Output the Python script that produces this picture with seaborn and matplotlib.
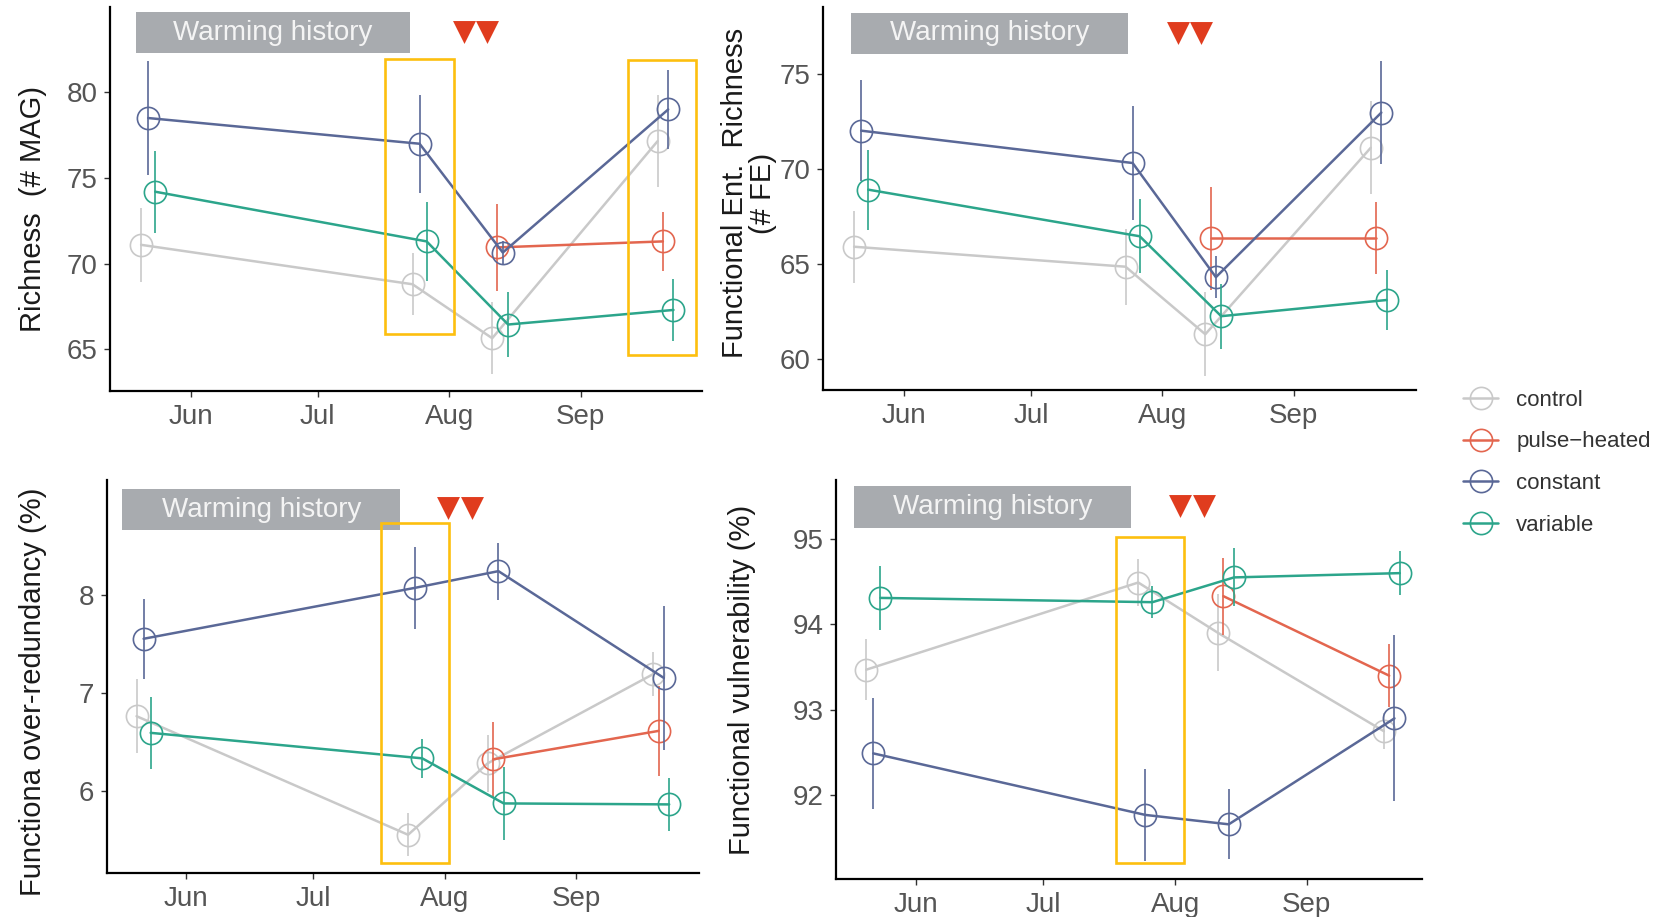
import datetime as dt

import numpy as np
import pandas as pd
import matplotlib
matplotlib.use("Agg")
import matplotlib.pyplot as plt
import matplotlib.dates as mdates
from matplotlib.lines import Line2D
from matplotlib.patches import Rectangle
import seaborn as sns

sns.set_theme(style="ticks")
plt.rcParams["font.family"] = ["Liberation Sans", "DejaVu Sans"]

# ---------------------------------------------------------------- data
groups = ["control", "pulse-heated", "constant", "variable"]
group_labels = ["control", "pulse\u2212heated", "constant", "variable"]
group_colors = ["#C9C9C9", "#E3664F", "#5A6897", "#2CA58B"]
sample_dates = ["2020-05-22", "2020-07-25", "2020-08-13", "2020-09-21"]
nan = np.nan

# Richness (# MAG): means and error half-widths
rich_control = [71.1, 68.8, 65.65, 77.15]
rich_pulse = [nan, nan, 70.95, 71.3]
rich_constant = [78.5, 77.0, 70.65, 79.0]
rich_variable = [74.2, 71.3, 66.45, 67.3]
rich_control_err = [2.15, 1.8, 2.1, 2.7]
rich_pulse_err = [nan, nan, 2.55, 1.7]
rich_constant_err = [3.3, 2.85, 0.7, 2.3]
rich_variable_err = [2.4, 2.3, 1.9, 1.8]

# Functional entity richness (# FE)
fe_control = [65.9, 64.85, 61.3, 71.1]
fe_pulse = [nan, nan, 66.35, 66.35]
fe_constant = [72.0, 70.3, 64.3, 72.95]
fe_variable = [68.9, 66.45, 62.25, 63.1]
fe_control_err = [1.9, 2.0, 2.2, 2.45]
fe_pulse_err = [nan, nan, 2.7, 1.9]
fe_constant_err = [2.65, 3.0, 1.1, 2.7]
fe_variable_err = [2.1, 1.95, 1.7, 1.6]

# Functional over-redundancy (%)
ored_control = [6.76, 5.55, 6.28, 7.19]
ored_pulse = [nan, nan, 6.32, 6.61]
ored_constant = [7.55, 8.07, 8.24, 7.15]
ored_variable = [6.59, 6.33, 5.87, 5.86]
ored_control_err = [0.38, 0.22, 0.29, 0.22]
ored_pulse_err = [nan, nan, 0.38, 0.46]
ored_constant_err = [0.41, 0.42, 0.29, 0.73]
ored_variable_err = [0.37, 0.20, 0.37, 0.27]

# Functional vulnerability (%)
vuln_control = [93.47, 94.49, 93.90, 92.75]
vuln_pulse = [nan, nan, 94.33, 93.40]
vuln_constant = [92.49, 91.77, 91.66, 92.90]
vuln_variable = [94.31, 94.26, 94.55, 94.60]
vuln_control_err = [0.36, 0.28, 0.45, 0.21]
vuln_pulse_err = [nan, nan, 0.45, 0.37]
vuln_constant_err = [0.645, 0.535, 0.41, 0.97]
vuln_variable_err = [0.37, 0.19, 0.34, 0.26]

DODGE_DAYS = 5.0


def dnum(month, day):
    """Fractional day in 2020 as a matplotlib date number."""
    return mdates.date2num(dt.datetime(2020, month, 1)) + day - 1


def long_table(means, errs):
    rows = []
    for i, date in enumerate(sample_dates):
        base = mdates.date2num(pd.Timestamp(date))
        present = [g for g in groups if not np.isnan(means[g][i])]
        n = len(present)
        for j, g in enumerate(present):
            off = (j - (n - 1) / 2) * DODGE_DAYS / n
            rows.append({"x": base + off, "group": g,
                         "mean": means[g][i], "err": errs[g][i]})
    return pd.DataFrame(rows)


panels = [
    dict(means=dict(zip(groups, [rich_control, rich_pulse, rich_constant, rich_variable])),
         errs=dict(zip(groups, [rich_control_err, rich_pulse_err, rich_constant_err, rich_variable_err])),
         rect=[110, 7, 702, 391], ylim=(62.57, 84.98), xlim=(dnum(5, 13.0), dnum(9, 29.6)),
         yticks=[65, 70, 75, 80], ylabel="Richness  (# MAG)", label_xy=(-0.106, 0.474),
         box=(dnum(5, 19.2), dnum(7, 22.7), 82.28, 84.70),
         tri=([dnum(8, 4.5), dnum(8, 9.9)], 83.5),
         highlights=[(dnum(7, 16.8), dnum(8, 2.1), 65.9, 81.94),
                     (dnum(9, 12.2), dnum(9, 28.2), 64.66, 81.88)]),
    dict(means=dict(zip(groups, [fe_control, fe_pulse, fe_constant, fe_variable])),
         errs=dict(zip(groups, [fe_control_err, fe_pulse_err, fe_constant_err, fe_variable_err])),
         rect=[823, 7, 1416, 390], ylim=(58.37, 78.5), xlim=(dnum(5, 13.0), dnum(9, 29.8)),
         yticks=[60, 65, 70, 75], ylabel="Functional Ent.  Richness\n(# FE)", label_xy=(-0.078, 0.514),
         box=(dnum(5, 19.5), dnum(7, 24.0), 76.04, 78.19),
         tri=([dnum(8, 4.8), dnum(8, 10.2)], 77.14),
         highlights=[]),
    dict(means=dict(zip(groups, [ored_control, ored_pulse, ored_constant, ored_variable])),
         errs=dict(zip(groups, [ored_control_err, ored_pulse_err, ored_constant_err, ored_variable_err])),
         rect=[106.5, 480, 699, 873], ylim=(5.16, 9.17), xlim=(dnum(5, 13.25), dnum(9, 29.9)),
         yticks=[6, 7, 8], ylabel="Functiona over-redundancy (%)", label_xy=(-0.100, 0.46),
         box=(dnum(5, 17.0), dnum(7, 21.5), 8.656, 9.08),
         tri=([dnum(8, 1.8), dnum(8, 7.5)], 8.88),
         highlights=[(dnum(7, 16.9), dnum(8, 2.0), 5.26, 8.73)]),
    dict(means=dict(zip(groups, [vuln_control, vuln_pulse, vuln_constant, vuln_variable])),
         errs=dict(zip(groups, [vuln_control_err, vuln_pulse_err, vuln_constant_err, vuln_variable_err])),
         rect=[836.4, 480, 1422, 879], ylim=(91.02, 95.69), xlim=(dnum(5, 13.3), dnum(9, 28.1)),
         yticks=[92, 93, 94, 95], ylabel="Functional vulnerability (%)", label_xy=(-0.137, 0.499),
         box=(dnum(5, 17.4), dnum(7, 21.7), 95.13, 95.62),
         tri=([dnum(8, 2.1), dnum(8, 7.8)], 95.38),
         highlights=[(dnum(7, 18.1), dnum(8, 3.2), 91.21, 95.02)]),
]

W, H = 1663, 917
fig = plt.figure(figsize=(W / 100, H / 100), dpi=100)
fig.patch.set_facecolor("white")

TICK_COLOR = "#555555"
BOX_COLOR = "#A8ABAF"
TRI_COLOR = "#E03C1E"
HIGHLIGHT = "#FDBF0F"

for p in panels:
    x0, y0, x1, y1 = p["rect"]
    ax = fig.add_axes([x0 / W, 1 - y1 / H, (x1 - x0) / W, (y1 - y0) / H])
    ax.set_facecolor("white")
    df = long_table(p["means"], p["errs"])

    for g, c in zip(groups, group_colors):
        sub = df[df["group"] == g]
        ax.vlines(sub["x"], sub["mean"] - sub["err"], sub["mean"] + sub["err"],
                  colors=c, linewidth=1.2, zorder=3)
        sns.lineplot(data=sub, x="x", y="mean", color=c, ax=ax, errorbar=None,
                     linewidth=1.8, marker="o", markersize=16,
                     markerfacecolor="none", markeredgecolor=c,
                     markeredgewidth=1.2, legend=False, zorder=3)

    # "Warming history" banner
    bx0, bx1, by0, by1 = p["box"]
    ax.add_patch(Rectangle((bx0, by0), bx1 - bx0, by1 - by0, facecolor=BOX_COLOR,
                           edgecolor="none", zorder=2, clip_on=False))
    ax.text((bx0 + bx1) / 2, (by0 + by1) / 2, "Warming history", color="#F4F4F4",
            fontsize=20, ha="center", va="center", zorder=4)

    # heat-pulse markers
    tx, ty = p["tri"]
    ax.scatter(tx, [ty] * len(tx), marker="v", s=16.5 ** 2, color=TRI_COLOR,
               linewidths=0, zorder=4, clip_on=False)

    for hx0, hx1, hy0, hy1 in p["highlights"]:
        ax.add_patch(Rectangle((hx0, hy0), hx1 - hx0, hy1 - hy0, facecolor="none",
                               edgecolor=HIGHLIGHT, linewidth=1.9, zorder=5, clip_on=False))

    ax.set_xlim(*p["xlim"])
    ax.set_ylim(*p["ylim"])
    ax.set_yticks(p["yticks"])
    ax.xaxis.set_major_locator(mdates.MonthLocator(bymonth=[6, 7, 8, 9]))
    ax.xaxis.set_major_formatter(mdates.DateFormatter("%b"))
    ax.set_xlabel("")
    ax.set_ylabel(p["ylabel"], fontsize=21, color="#1A1A1A", linespacing=1.0)
    ax.yaxis.set_label_coords(*p["label_xy"])
    ax.tick_params(axis="both", labelsize=20, colors="#333333", labelcolor=TICK_COLOR,
                   length=4, width=1.0, pad=5)
    sns.despine(ax=ax)
    for side in ("left", "bottom"):
        ax.spines[side].set_color("black")
        ax.spines[side].set_linewidth(1.6)
    ax.grid(False)

handles = [Line2D([], [], color=c, linewidth=1.8, marker="o", markersize=16,
                  markerfacecolor="none", markeredgecolor=c, markeredgewidth=1.2)
           for c in group_colors]
fig.legend(handles, group_labels, loc="upper left", bbox_to_anchor=(0.873, 0.587),
           frameon=False, fontsize=16, handlelength=1.6, handletextpad=0.8,
           labelspacing=0.93, borderpad=0, labelcolor="#333333")

fig.savefig("out.png", dpi=100, facecolor="white")
